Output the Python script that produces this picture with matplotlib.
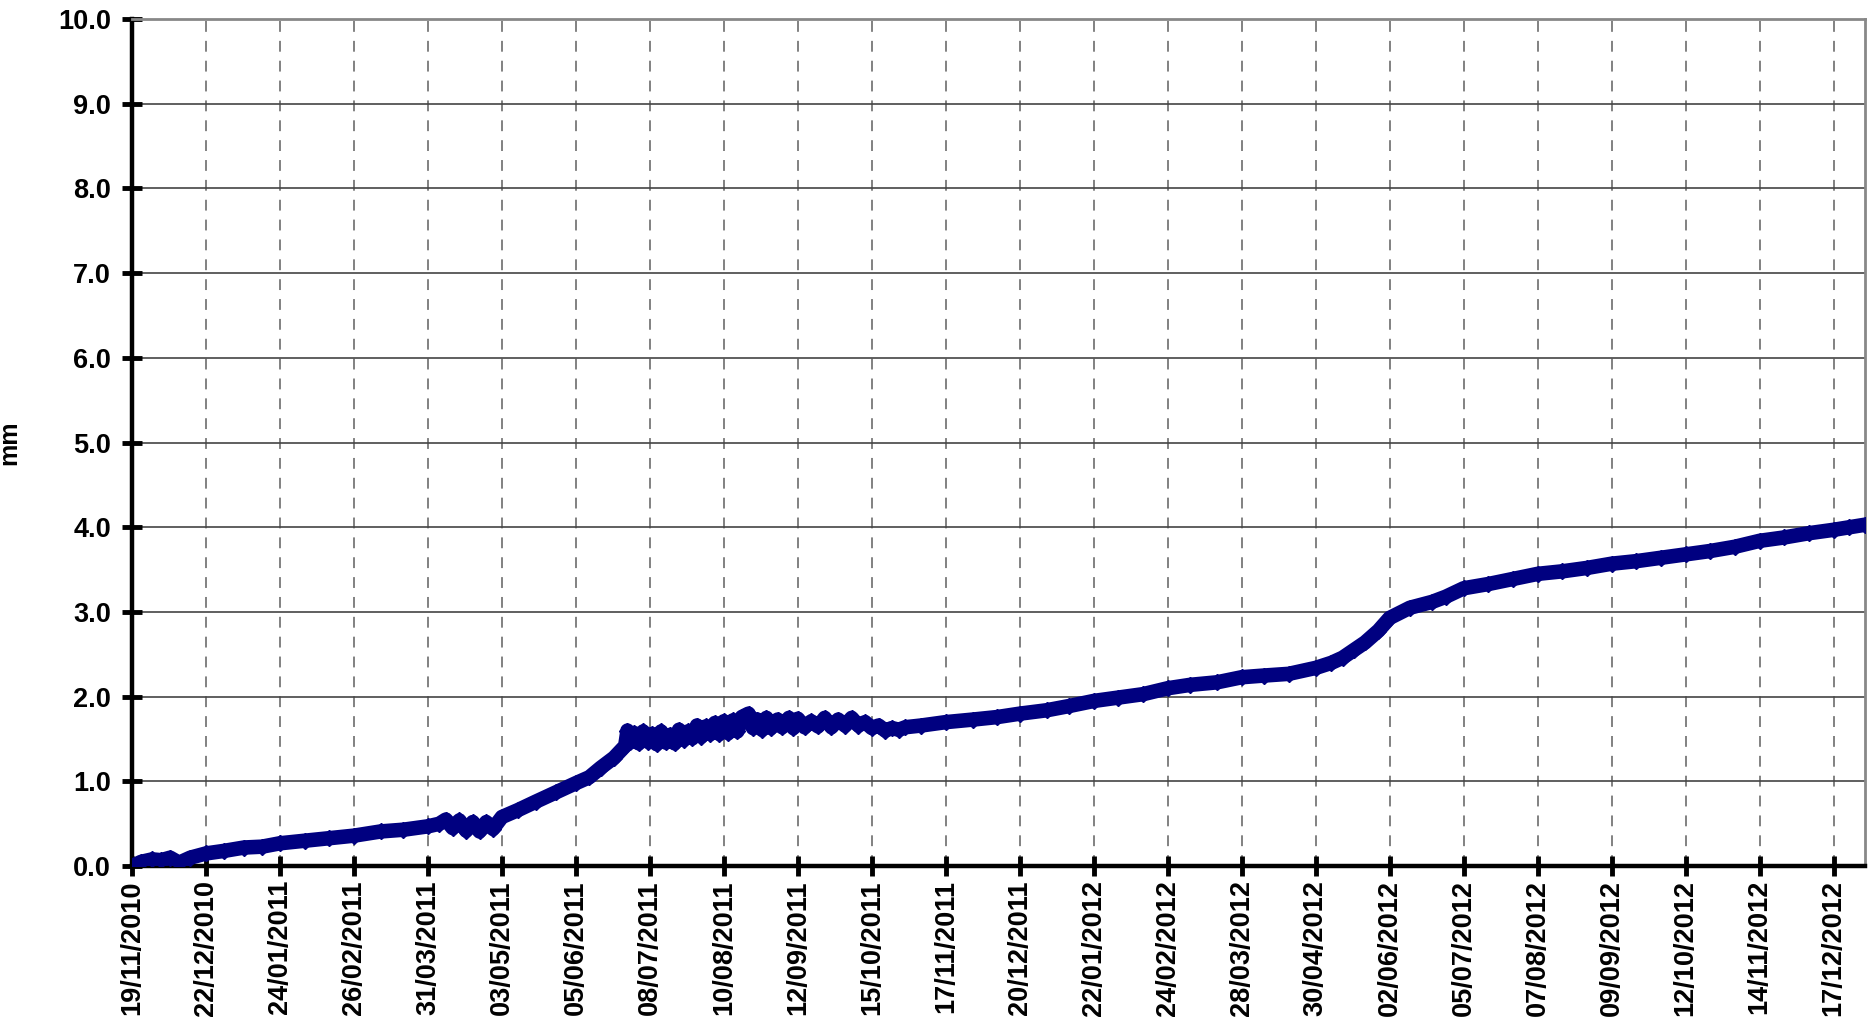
from datetime import datetime, timedelta
import matplotlib
matplotlib.use("Agg")
from matplotlib import pyplot as plt
import matplotlib.dates as mdates

# readings: days after 19/11/2010 and displacement in mm
days = [0, 4, 9, 13, 17, 21, 26, 33, 41, 50, 58, 66, 77, 88, 99, 111, 121, 132,
        137, 140, 143, 146, 149, 152, 155, 158, 161, 165, 172, 180, 189, 198,
        204, 209, 215, 220,
        221, 222, 224, 226, 228, 230, 232, 234, 236, 238, 240, 242, 244, 246,
        248, 250, 252, 254, 256, 258, 260, 262, 264, 266, 268, 270, 272, 275,
        277, 279, 281, 283, 285, 288, 290, 293, 295, 297, 300, 303, 306, 309,
        312, 315, 318, 321, 324, 327, 330, 333, 336, 339, 342, 345,
        352, 363, 375, 386, 396, 408, 418, 429, 440, 451, 462, 472, 484, 495,
        505, 516, 528, 535, 540, 545, 550, 556, 561, 570, 580, 586, 594, 605,
        616, 627, 638, 649, 660, 671, 682, 693, 704, 715, 726, 737, 748, 759,
        766, 773]
mm = [0.00, 0.05, 0.08, 0.07, 0.10, 0.04, 0.10, 0.15, 0.18, 0.22, 0.23, 0.27,
      0.30, 0.33, 0.36, 0.41, 0.43, 0.47,
      0.50, 0.55, 0.45, 0.54, 0.42, 0.52, 0.41, 0.52, 0.44, 0.58, 0.66, 0.76,
      0.87, 0.98, 1.05, 1.16, 1.28, 1.42,
      1.60, 1.46, 1.57, 1.45, 1.59, 1.47, 1.56, 1.44, 1.59, 1.46, 1.55, 1.45,
      1.61, 1.49, 1.59, 1.51, 1.66, 1.53, 1.65, 1.56, 1.69, 1.56, 1.71, 1.57,
      1.72, 1.59, 1.76, 1.80, 1.63, 1.73, 1.61, 1.75, 1.63, 1.73, 1.64, 1.75,
      1.63, 1.74, 1.64, 1.71, 1.65, 1.75, 1.64, 1.73, 1.66, 1.75, 1.66, 1.70,
      1.63, 1.66, 1.60, 1.63, 1.61, 1.64,
      1.66, 1.70, 1.73, 1.76, 1.80, 1.84, 1.89, 1.95, 1.99, 2.03, 2.10, 2.14,
      2.17, 2.23, 2.25, 2.27, 2.34, 2.40, 2.46, 2.55, 2.64, 2.78, 2.93, 3.05,
      3.12, 3.18, 3.28, 3.33, 3.39, 3.45, 3.48, 3.52, 3.57, 3.60, 3.64, 3.68,
      3.72, 3.77, 3.84, 3.88, 3.93, 3.97, 4.00, 4.03]

start = datetime(2010, 11, 19)
dates = [start + timedelta(days=d) for d in days]
tick_dates = [start + timedelta(days=33 * i) for i in range(24)]
y_ticks = [0, 1, 2, 3, 4, 5, 6, 7, 8, 9, 10]

plt.rcParams['font.family'] = ['Liberation Sans', 'DejaVu Sans']
plt.rcParams['font.weight'] = 'bold'

fig = plt.figure(figsize=(18.7, 10.19), dpi=100)
ax = fig.add_axes([0.0706, 0.150, 0.9267, 0.8314])

ax.plot(dates, mm, color='#000080', linewidth=10.5, marker='D', markersize=8,
        solid_joinstyle='round', solid_capstyle='round', zorder=3)

ax.set_xlim(start, start + timedelta(days=773))
ax.set_ylim(0, 10)
ax.set_xticks(tick_dates)
ax.xaxis.set_major_formatter(mdates.DateFormatter('%d/%m/%Y'))
ax.set_yticks(y_ticks)
ax.yaxis.set_major_formatter(plt.FormatStrFormatter('%.1f'))

ax.grid(axis='y', color='#444444', linewidth=1.2, linestyle='-')
ax.grid(axis='x', color='#777777', linewidth=1.3, linestyle=(0, (6, 5)))
ax.set_axisbelow(True)

for s in ['left', 'bottom']:
    ax.spines[s].set_linewidth(3.2)
    ax.spines[s].set_color('black')
for s in ['top', 'right']:
    ax.spines[s].set_linewidth(2)
    ax.spines[s].set_color('#888888')

ax.tick_params(axis='both', direction='inout', length=14, width=3.5)
ax.tick_params(axis='x', rotation=90, pad=3, labelsize=19.5)
ax.tick_params(axis='y', labelsize=19.5, pad=8)
for lab in ax.get_xticklabels() + ax.get_yticklabels():
    lab.set_fontweight('bold')

ax.set_ylabel("mm", fontsize=18, fontweight='bold')
ax.yaxis.set_label_coords(-0.064, 0.5)

plt.savefig("out.png", dpi=100)
